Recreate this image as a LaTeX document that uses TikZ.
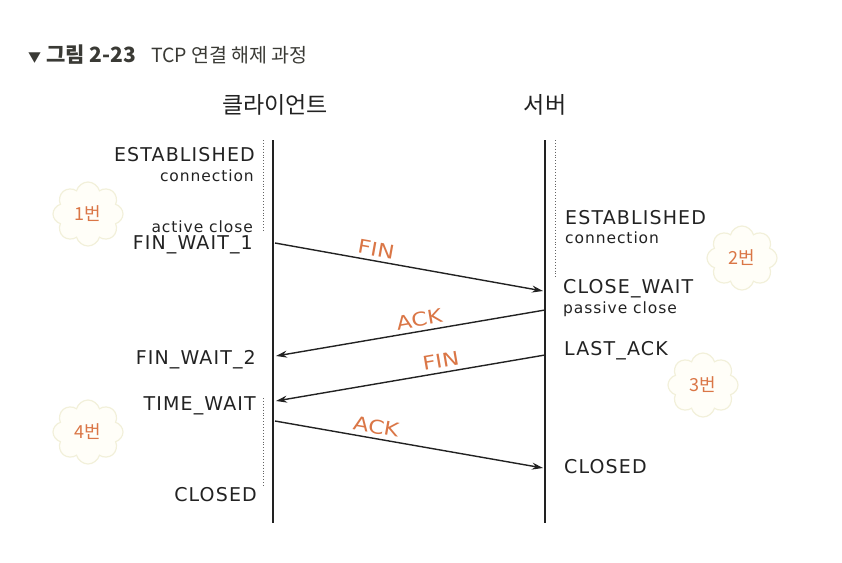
\documentclass[tikz,border=0pt]{standalone}
\usepackage{fontspec}
\usetikzlibrary{arrows.meta,positioning,calc,shapes.symbols}
\newfontfamily\krfont{Noto Sans CJK KR}
\newfontfamily\handfont[LetterSpace=6]{DejaVu Sans}
\newfontfamily\msgfont[FakeStretch=1.2]{DejaVu Sans}
\definecolor{tDark}{HTML}{222222}
\definecolor{tTitle}{HTML}{3A3A35}
\definecolor{tOrange}{HTML}{DA7646}
\definecolor{tCloud}{HTML}{F2F0DA}
\definecolor{tCloudFill}{HTML}{FFFEF8}
\tikzset{
  >={Stealth[length=11pt,width=7pt]},
  state/.style   ={font=\handfont\fontsize{19}{19}\selectfont,text=tDark,inner sep=0pt},
  note/.style    ={font=\handfont\fontsize{15.5}{15.5}\selectfont,text=tDark,inner sep=0pt},
  msg/.style     ={->,line width=1.4pt,tDark},
  msglabel/.style={font=\msgfont\fontsize{19}{19}\selectfont,text=tOrange,anchor=south,inner sep=4pt},
  life/.style    ={line width=2pt,tDark},
  wait/.style    ={dotted,line width=0.9pt,tDark!70},
  badge/.style   ={cloud,cloud puffs=8,aspect=1.05,draw=tCloud,fill=tCloudFill,line width=1.2pt,minimum width=70pt,minimum height=64pt,font=\krfont\fontsize{18}{18}\selectfont,text=tOrange},
  head/.style    ={font=\krfont\fontsize{23}{23}\selectfont,text=tDark},
}
\begin{document}
\begin{tikzpicture}[x=1pt,y=-1pt]
  \useasboundingbox (0,0) rectangle (842,562);
  % ---- title ----
  \node[anchor=west,font=\krfont\fontsize{19.5}{19.5}\selectfont,text=tTitle,inner sep=0pt] (title) at (28,55)
        {{\fontsize{13}{13}\selectfont ▼}\hspace{5pt}{\bfseries\fontsize{21}{21}\selectfont 그림 2-23}\hspace{15pt}TCP 연결 해제 과정};

  % ---- lifelines ----
  \node[head] (client) at (275,105) {클라이언트};
  \node[head] (server) at (545,105) {서버};
  \coordinate (cTop) at (273,140); \coordinate (cBot) at (273,523);
  \coordinate (sTop) at (545,140); \coordinate (sBot) at (545,523);
  \draw[life] (cTop) -- (cBot);
  \draw[life] (sTop) -- (sBot);

  % waiting periods
  \draw[wait] (263,140) -- (263,230);
  \draw[wait] (263,398) -- (263,486);
  \draw[wait] (555,140) -- (555,278);

  % ---- client states ----
  \node[state,anchor=east] (cEst)  at (255,155) {ESTABLISHED};
  \node[note,anchor=east]  (cConn) at (254,176) {connection};
  \node[note,anchor=east]  (cAct)  at (253,227) {active close};
  \node[state,anchor=east] (cFw1)  at (253,245) {FIN\_WAIT\_1};
  \node[state,anchor=east] (cFw2)  at (256,360) {FIN\_WAIT\_2};
  \node[state,anchor=east] (cTw)   at (256,406) {TIME\_WAIT};
  \node[state,anchor=east] (cCl)   at (257,495) {CLOSED};

  % ---- server states ----
  \node[state,anchor=west] (sEst)  at (565,218) {ESTABLISHED};
  \node[note,anchor=west]  (sConn) at (565,238) {connection};
  \node[state,anchor=west] (sCw)   at (563,289) {CLOSE\_WAIT};
  \node[note,anchor=west]  (sPas)  at (563,309) {passive close};
  \node[state,anchor=west] (sLa)   at (564,351) {LAST\_ACK};
  \node[state,anchor=west] (sCl)   at (564,467) {CLOSED};

  % ---- segments ----
  \coordinate (c1) at (275,243); \coordinate (s1) at (543,291);
  \coordinate (s2) at (545,310); \coordinate (c2) at (276,356);
  \coordinate (s3) at (545,355); \coordinate (c3) at (276,401);
  \coordinate (c4) at (275,421); \coordinate (s4) at (543,468);
  \draw[msg] (c1) -- node[msglabel,pos=0.37,rotate=-10.2] {FIN} (s1);
  \draw[msg] (s2) -- node[msglabel,pos=0.46,rotate=9.7] {ACK} (c2);
  \draw[msg] (s3) -- node[msglabel,pos=0.38,rotate=9.7] {FIN} (c3);
  \draw[msg] (c4) -- node[msglabel,pos=0.37,rotate=-10] {ACK} (s4);

  % ---- step badges ----
  \node[badge] (b1) at (88,214) {1번};
  \node[badge] (b2) at (742,258) {2번};
  \node[badge] (b3) at (703,385) {3번};
  \node[badge] (b4) at (88,432) {4번};
\end{tikzpicture}
\end{document}
